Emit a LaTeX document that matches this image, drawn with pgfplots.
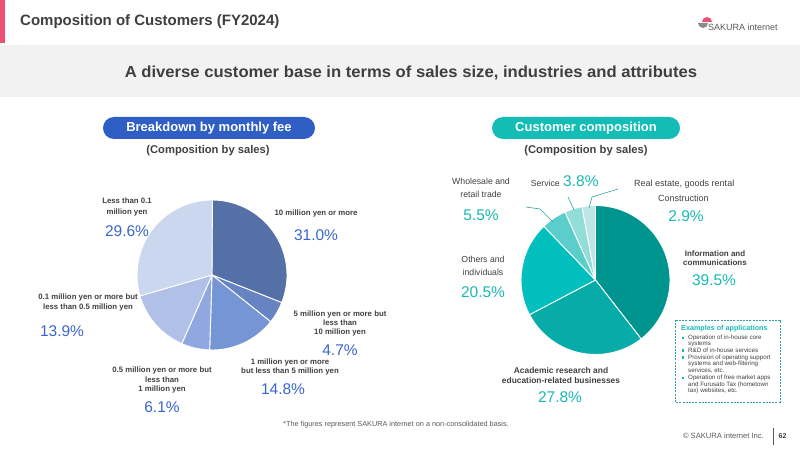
\documentclass[border=0pt]{standalone}
\usepackage{pgfplots}
\pgfplotsset{compat=1.18}
\usepackage{pgfplotstable}
\usepackage{graphicx}
\usepackage{fontspec}
\setmainfont{Liberation Sans}

% palette
\definecolor{pinkbar}{HTML}{EE4F76}
\definecolor{bandgrey}{HTML}{F2F2F2}
\definecolor{titlegrey}{HTML}{3F3F3F}
\definecolor{labelgrey}{HTML}{404040}
\definecolor{footgrey}{HTML}{595959}
\definecolor{pillblue}{HTML}{2F5FC5}
\definecolor{pillteal}{HTML}{12BDB6}
\definecolor{pctblue}{HTML}{3A66CC}
\definecolor{pctteal}{HTML}{19BAB5}
\definecolor{leader}{HTML}{2FA3A3}
% monthly fee slices
\definecolor{feeA}{HTML}{5470A7}
\definecolor{feeB}{HTML}{6683C2}
\definecolor{feeC}{HTML}{7595D5}
\definecolor{feeD}{HTML}{8FA9E0}
\definecolor{feeE}{HTML}{B0C0E7}
\definecolor{feeF}{HTML}{CBD6EF}
% industry slices
\definecolor{indA}{HTML}{00948F}
\definecolor{indB}{HTML}{07ABA8}
\definecolor{indC}{HTML}{00BFBD}
\definecolor{indD}{HTML}{5BCDCB}
\definecolor{indE}{HTML}{92DCDA}
\definecolor{indF}{HTML}{BDE6E6}

% sales share by monthly fee, clockwise from 12 o'clock
\pgfplotstableread{
share fill
31.0  feeA
4.7   feeB
14.8  feeC
6.1   feeD
13.9  feeE
29.6  feeF
}\feetable

% sales share by industry, clockwise from 12 o'clock
\pgfplotstableread{
share fill
39.5  indA
27.8  indB
20.5  indC
5.5   indD
3.8   indE
2.9   indF
}\industrytable

% draws the slices of a share table around the centre (axis cs:#2,#3), radius #4
\newcommand{\drawpie}[4]{%
  \pgfplotstablegetrowsof{#1}%
  \pgfmathtruncatemacro\pielast{\pgfplotsretval-1}%
  \def\piecum{0}%
  \pgfplotsforeachungrouped \pieidx in {0,...,\pielast}{%
    \pgfplotstablegetelem{\pieidx}{share}\of{#1}\let\pieval\pgfplotsretval
    \pgfplotstablegetelem{\pieidx}{fill}\of{#1}\let\piecol\pgfplotsretval
    \pgfmathsetmacro\piestart{90-3.6*\piecum}%
    \pgfmathsetmacro\pieend{90-3.6*(\piecum+\pieval)}%
    \edef\pieslice{\noexpand\fill[\piecol, draw=white, line width=0.9pt, line join=round]
      (axis cs:#2,#3) -- ++(\piestart:#4) arc[start angle=\piestart, end angle=\pieend, radius=#4] -- cycle;}%
    \pieslice
    \pgfmathsetmacro\piecum{\piecum+\pieval}%
  }%
}

\newcommand{\fs}[1]{\fontsize{#1}{#1}\selectfont}

\begin{document}
\begin{tikzpicture}[x=1pt, y=1pt]
\path[fill=white] (0,0) rectangle (800,450);

% both pies share one hidden axis laid over the page, 1 unit = 1pt
\begin{axis}[at={(0pt,0pt)}, anchor=south west, hide axis, scale only axis,
  clip=false, x=1pt, y=1pt, xmin=0, xmax=800, ymin=0, ymax=450]
  \drawpie{\feetable}{212}{175}{75pt}
  \drawpie{\industrytable}{595.5}{170}{74.5pt}
\end{axis}

\begin{scope}[shift={(0,450)}, y=-1pt]
% header
\fill[pinkbar] (0,0) rectangle (5,43);
\node[anchor=west, font=\fs{15}\bfseries, text=titlegrey, inner sep=0] at (20,22) {Composition of Customers (FY2024)};
\fill[pinkbar] (702,22) arc[start angle=180, end angle=0, radius=5pt] -- cycle;
\fill[footgrey!70] (698,23) -- (708,23) arc[start angle=0, end angle=-180, radius=5pt] -- cycle;
\node[anchor=west, font=\fs{9}, text=footgrey, inner sep=0] at (708,27) {SAKURA internet};

\fill[bandgrey] (0,45) rectangle (800,97);
\node[font=\fs{16}\bfseries, text=titlegrey, inner sep=0] at (411,73)
  {\scalebox{1.04}[1]{A diverse customer base in terms of sales size, industries and attributes}};

% section pills
\fill[pillblue, rounded corners=11pt] (103,117) rectangle (315,139);
\node[font=\fs{13}\bfseries, text=white, inner sep=0] at (209,128.5) {Breakdown by monthly fee};
\fill[pillteal, rounded corners=11pt] (492,117) rectangle (680,139);
\node[font=\fs{13}\bfseries, text=white, inner sep=0] at (586,128.5) {Customer composition};
\node[font=\fs{11.2}\bfseries, text=labelgrey, inner sep=0] at (208,151) {(Composition by sales)};
\node[font=\fs{11.2}\bfseries, text=labelgrey, inner sep=0] at (586,151) {(Composition by sales)};

% monthly fee labels
\begin{scope}[every node/.style={inner sep=0, align=center}]
\node[font=\fs{7.8}\bfseries, text=labelgrey] at (127,207) {Less than 0.1\\[2.5pt]million yen};
\node[font=\fs{15.5}, text=pctblue] at (127,231) {29.6\%};
\node[font=\fs{7.8}\bfseries, text=labelgrey] at (316,213) {10 million yen or more};
\node[font=\fs{15.5}, text=pctblue] at (316,235) {31.0\%};
\node[font=\fs{7.8}\bfseries, text=labelgrey] at (340,323.5) {5 million yen or more but\\[1.5pt]less than\\[1.5pt]10 million yen};
\node[font=\fs{15.5}, text=pctblue] at (340,350) {4.7\%};
\node[font=\fs{7.8}\bfseries, text=labelgrey] at (290,367) {1 million yen or more\\[1.5pt]but less than 5 million yen};
\node[font=\fs{15.5}, text=pctblue] at (283,389) {14.8\%};
\node[font=\fs{7.8}\bfseries, text=labelgrey] at (162,380) {0.5 million yen or more but\\[1.5pt]less than\\[1.5pt]1 million yen};
\node[font=\fs{15.5}, text=pctblue] at (162,407) {6.1\%};
\node[font=\fs{7.8}\bfseries, text=labelgrey] at (88,302.5) {0.1 million yen or more but\\[1.5pt]less than 0.5 million yen};
\node[font=\fs{15.5}, text=pctblue] at (62,331) {13.9\%};

% industry labels
\node[font=\fs{8.7}, text=labelgrey] at (481,188) {Wholesale and\\[4pt]retail trade};
\node[font=\fs{15.5}, text=pctteal] at (481,215) {5.5\%};
\node[font=\fs{8.7}, text=labelgrey, anchor=east] at (560,183) {Service};
\node[font=\fs{15.5}, text=pctteal, anchor=west] at (563,181) {3.8\%};
\node[font=\fs{9}, text=labelgrey, anchor=west] at (634,184) {Real estate, goods rental};
\node[font=\fs{9}, text=labelgrey, anchor=west] at (658,198) {Construction};
\node[font=\fs{15.5}, text=pctteal] at (686,216) {2.9\%};
\node[font=\fs{8}\bfseries, text=labelgrey] at (715,258) {Information and\\[1.5pt]communications};
\node[font=\fs{15.5}, text=pctteal] at (714,280) {39.5\%};
\node[font=\fs{8.7}, text=labelgrey] at (483,266) {Others and\\[4pt]individuals};
\node[font=\fs{15.5}, text=pctteal] at (483,292) {20.5\%};
\node[font=\fs{8.4}\bfseries, text=labelgrey] at (561,375.5) {Academic research and\\[1.5pt]education-related businesses};
\node[font=\fs{15.5}, text=pctteal] at (560,397) {27.8\%};
\end{scope}

% leader lines for the small slices
\draw[leader, line width=0.6pt] (526,207) -- (540,209) -- (553,222);
\draw[leader, line width=0.6pt] (568,197) -- (574,210);
\draw[leader, line width=0.6pt] (618,189) -- (592,197) -- (589,208);

% examples box
\draw[leader, line width=0.7pt, dash pattern=on 2pt off 1.2pt] (675,320) rectangle (780,402);
\node[anchor=west, font=\fs{7.2}\bfseries, text=pctteal, inner sep=0] at (681,329) {Examples of applications};
\begin{scope}[every node/.style={anchor=west, font=\fs{6.2}, text=labelgrey, inner sep=0}]
\node at (688,338) {Operation of in-house core};
\node at (688,344) {systems};
\node at (688,350.5) {R\&D of in-house services};
\node at (688,357.5) {Provision of operating support};
\node at (688,364) {systems and web-filtering};
\node at (688,370.5) {services, etc.};
\node at (688,378) {Operation of free market apps};
\node at (688,384.5) {and Furusato Tax (hometown};
\node at (688,391) {tax) websites, etc.};
\end{scope}
\foreach \by in {338,350.5,357.5,378}{\fill[pctteal] (682,\by-1.2) rectangle (684.4,\by+1.2);}

% footer
\node[anchor=west, font=\fs{7.3}, text=footgrey, inner sep=0] at (283,425) {*The figures represent SAKURA internet on a non-consolidated basis.};
\node[anchor=east, font=\fs{7.6}, text=footgrey, inner sep=0] at (764,436) {\textcopyright{} SAKURA internet Inc.};
\draw[footgrey, line width=0.8pt] (773,428) -- (773,445);
\node[font=\fs{7}\bfseries, text=labelgrey, inner sep=0] at (782.5,436) {62};
\end{scope}
\end{tikzpicture}
\end{document}
